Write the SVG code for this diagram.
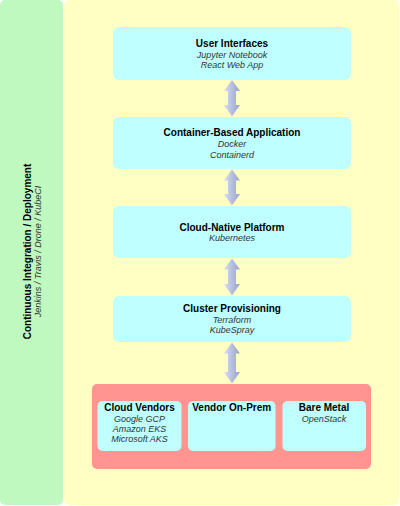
<svg xmlns="http://www.w3.org/2000/svg" width="400" height="506" viewBox="0 0 400 506">
<defs>
<linearGradient id="ag" x1="0" y1="0" x2="1" y2="0">
<stop offset="0" stop-color="#d6dcf6"/>
<stop offset="1" stop-color="#98a2c8"/>
</linearGradient>
<style>
.t{font-family:"Liberation Sans",Arial,sans-serif;font-size:10px;font-weight:bold;fill:#000;text-anchor:middle}
.s{font-family:"Liberation Sans",Arial,sans-serif;font-size:9px;font-style:italic;fill:#333;text-anchor:middle}
.box{fill:#bfffff}
.arrow{fill:url(#ag)}
</style>
</defs>
<g id="ci-panel">
<rect x="0" y="0" width="63" height="505" rx="5" fill="#c0f9c0"/>
<g transform="translate(31,251.5) rotate(-90)">
<text class="t" x="0" y="0">Continuous Integration / Deployment</text>
<text class="s" x="0" y="10">Jenkins / Travis / Drone / KubeCI</text>
</g>
</g>
<g id="stack-panel">
<rect x="64" y="0" width="335" height="505" rx="5" fill="#ffffc4"/>
</g>
<g id="user-interfaces">
<rect class="box" x="113" y="27" width="238" height="53" rx="6"/>
<text class="t" x="232" y="47">User Interfaces</text>
<text class="s" x="232" y="57.5">Jupyter Notebook</text>
<text class="s" x="232" y="68">React Web App</text>
</g>
<g id="container-app">
<rect class="box" x="113" y="117" width="238" height="52" rx="6"/>
<text class="t" x="232" y="136">Container-Based Application</text>
<text class="s" x="232" y="147.3">Docker</text>
<text class="s" x="232" y="157.6">Containerd</text>
</g>
<g id="cloud-native">
<rect class="box" x="113" y="206" width="238" height="52" rx="6"/>
<text class="t" x="232" y="230.7">Cloud-Native Platform</text>
<text class="s" x="232" y="241.3">Kubernetes</text>
</g>
<g id="cluster-provisioning">
<rect class="box" x="113" y="296" width="238" height="46" rx="6"/>
<text class="t" x="232" y="312">Cluster Provisioning</text>
<text class="s" x="232" y="322.7">Terraform</text>
<text class="s" x="232" y="333">KubeSpray</text>
</g>
<g id="infrastructure">
<rect x="92" y="384" width="279" height="85" rx="5" fill="#ff9490"/>
<g id="cloud-vendors">
<rect class="box" x="97.5" y="401" width="84" height="50" rx="5"/>
<text class="t" x="139.5" y="411">Cloud Vendors</text>
<text class="s" x="139.5" y="422.3">Google GCP</text>
<text class="s" x="139.5" y="432.3">Amazon EKS</text>
<text class="s" x="139.5" y="442.3">Microsoft AKS</text>
</g>
<g id="vendor-on-prem">
<rect class="box" x="188" y="401" width="87.5" height="50" rx="5"/>
<text class="t" x="231.7" y="411">Vendor On-Prem</text>
</g>
<g id="bare-metal">
<rect class="box" x="282.5" y="401" width="83.5" height="50" rx="5"/>
<text class="t" x="324" y="411">Bare Metal</text>
<text class="s" x="324" y="422.3">OpenStack</text>
</g>
</g>
<g id="connectors">
<path class="arrow" d="M232,80 L240,91 L236,91 L236,105 L240,105 L232,116.5 L224,105 L228,105 L228,91 L224,91 Z"/>
<path class="arrow" d="M232,169.5 L240,180.5 L236,180.5 L236,194 L240,194 L232,205.5 L224,194 L228,194 L228,180.5 L224,180.5 Z"/>
<path class="arrow" d="M232,258.5 L240,269.5 L236,269.5 L236,284 L240,284 L232,295.5 L224,284 L228,284 L228,269.5 L224,269.5 Z"/>
<path class="arrow" d="M232,342.5 L240,353.5 L236,353.5 L236,372 L240,372 L232,383.5 L224,372 L228,372 L228,353.5 L224,353.5 Z"/>
</g>
</svg>
